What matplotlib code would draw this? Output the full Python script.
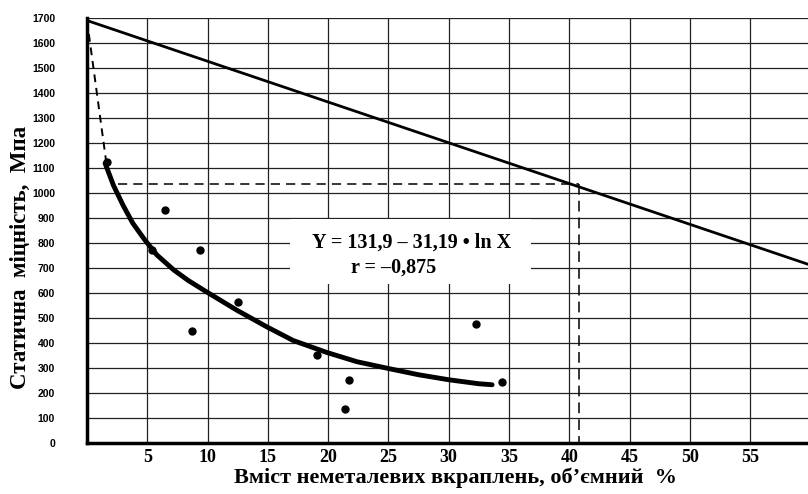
import matplotlib
matplotlib.use("Agg")
import matplotlib.pyplot as plt
from matplotlib.patches import Rectangle

# ---- data ----
x_ticks = [5, 10, 15, 20, 25, 30, 35, 40, 45, 50, 55]
y_ticks = list(range(0, 1800, 100))

points_x = [1.7, 5.4, 6.5, 8.7, 9.4, 12.5, 19.1, 21.4, 21.7, 32.3, 34.4]
points_y = [1124, 772, 932, 448, 772, 564, 352, 136, 252, 476, 244]

curve_x = [1.5, 2.2, 3.0, 3.8, 4.8, 5.8, 7.2, 8.4, 9.9, 12.4, 14.9, 17.1, 19.9, 22.4, 25.0, 27.5, 30.0, 32.5, 33.6]
curve_y = [1119, 1030, 950, 879, 812, 752, 692, 650, 605, 532, 465, 410, 362, 325, 298, 273, 253, 237, 233]

line_x = [0, 59.8]
line_y = [1690, 715]

dash_start_x = [0, 1.6]
dash_start_y = [1690, 1122]

cross_x = 40.8
cross_y = 1035
cross_x0 = 2.6

eq_text = "Y = 131,9 – 31,19 • ln X"
r_text = "r = –0,875"
x_label = "Вміст неметалевих вкраплень, об’ємний  %"
y_label = "Статична  міцність,  Мпа"

fig = plt.figure(figsize=(8.08, 4.94), dpi=100)
ax = fig.add_axes([87/808, 1-443/494, 1-87/808, (443-18)/494])
ax.set_xlim(0, 59.8)
ax.set_ylim(0, 1700)

# grid
for xt in x_ticks:
    ax.axvline(xt, color="#222222", lw=0.9, zorder=1)
for yt in y_ticks[1:]:
    ax.axhline(yt, color="#222222", lw=0.9, zorder=1)

# white box behind equation
ax.add_patch(Rectangle((16.8, 635), 20.0, 262, facecolor="white", edgecolor="none", zorder=2))

ax.plot(line_x, line_y, color="black", lw=2.0, zorder=3)
ax.plot(dash_start_x, dash_start_y, color="black", lw=1.4, ls=(0, (4, 3)), zorder=3)
ax.plot([cross_x0, cross_x], [cross_y, cross_y], color="black", lw=1.1, ls=(0, (6, 4)), zorder=3)
ax.plot([cross_x, cross_x], [cross_y, 0], color="black", lw=1.1, ls=(0, (7, 4)), zorder=3)
ax.plot(curve_x, curve_y, color="black", lw=3.5, solid_capstyle="round", solid_joinstyle="round", zorder=4)
ax.plot(points_x, points_y, "o", color="black", ms=5, zorder=5)

ax.text(26.9, 803, eq_text, ha="center", va="center", fontsize=14.5, fontweight="bold",
        family="Liberation Serif", zorder=6)
ax.text(25.4, 700, r_text, ha="center", va="center", fontsize=14.5, fontweight="bold",
        family="Liberation Serif", zorder=6)

ax.set_xticks(x_ticks)
ax.set_xticklabels([str(v) for v in x_ticks], fontsize=13, fontweight="bold", family="Liberation Serif")
ax.set_yticks(y_ticks)
ax.set_yticklabels([str(v) for v in y_ticks], fontsize=7.5, fontweight="bold", family="Liberation Sans")
ax.tick_params(axis="both", length=0)
ax.tick_params(axis="y", pad=23)
ax.tick_params(axis="x", pad=4)

for s in ["top", "right"]:
    ax.spines[s].set_visible(False)
ax.spines["left"].set_linewidth(2.5)
ax.spines["bottom"].set_linewidth(2.5)

fig.text(456/808, 1-478/494, x_label, ha="center", va="center", fontsize=16,
         fontweight="bold", family="Liberation Serif")
fig.text(20/808, 1-257/494, y_label, ha="center", va="center", rotation=90, fontsize=16.5,
         fontweight="bold", family="Liberation Serif")

fig.savefig("out.png", dpi=100)
